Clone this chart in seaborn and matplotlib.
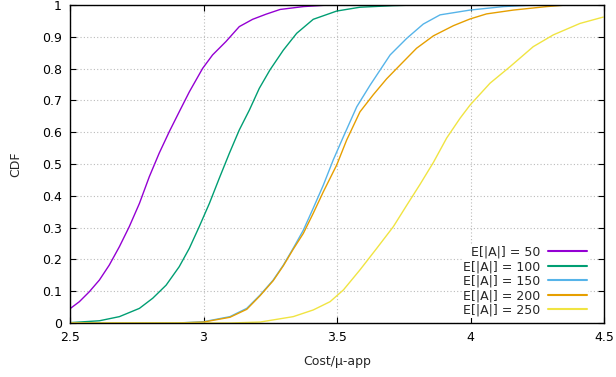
import numpy as np
import pandas as pd
import matplotlib
matplotlib.use("Agg")
import matplotlib.pyplot as plt
import seaborn as sns
from matplotlib.ticker import FuncFormatter

# Empirical CDF points (cost per micro-app, cumulative fraction) for each E[|A|]
cost_50 = [2.497, 2.535, 2.572, 2.61, 2.647, 2.685, 2.722, 2.76, 2.797, 2.834, 2.872, 2.909,
           2.947, 2.997, 3.034, 3.084, 3.134, 3.184, 3.234, 3.287, 3.374, 3.45, 3.55, 4.5]
cdf_50 = [0.043, 0.067, 0.098, 0.135, 0.182, 0.24, 0.303, 0.376, 0.46, 0.534, 0.602, 0.664,
          0.727, 0.801, 0.843, 0.885, 0.932, 0.955, 0.971, 0.986, 0.995, 0.999, 1.0, 1.0]

cost_100 = [2.497, 2.61, 2.685, 2.76, 2.81, 2.86, 2.909, 2.947, 2.984, 3.022, 3.059, 3.097,
            3.134, 3.172, 3.209, 3.249, 3.299, 3.349, 3.411, 3.499, 3.586, 3.711, 3.8, 4.5]
cdf_100 = [0.001, 0.007, 0.02, 0.046, 0.078, 0.119, 0.177, 0.235, 0.303, 0.376, 0.455, 0.534,
           0.607, 0.67, 0.738, 0.796, 0.858, 0.911, 0.955, 0.981, 0.993, 0.998, 1.0, 1.0]

cost_150 = [2.497, 2.9, 3.0, 3.099, 3.162, 3.212, 3.261, 3.299, 3.336, 3.374, 3.411, 3.449,
            3.486, 3.524, 3.574, 3.624, 3.699, 3.761, 3.823, 3.886, 3.998, 4.123, 4.24, 4.5]
cdf_150 = [0.0, 0.0, 0.004, 0.02, 0.046, 0.088, 0.135, 0.182, 0.235, 0.292, 0.361, 0.434,
           0.513, 0.586, 0.68, 0.748, 0.843, 0.895, 0.94, 0.969, 0.984, 0.995, 1.0, 1.0]

cost_200 = [2.497, 2.9, 3.0, 3.099, 3.162, 3.212, 3.261, 3.299, 3.336, 3.374, 3.411, 3.449,
            3.499, 3.536, 3.586, 3.636, 3.686, 3.736, 3.798, 3.861, 3.936, 3.998, 4.06, 4.16,
            4.285, 4.36, 4.5]
cdf_200 = [0.0, 0.0, 0.003, 0.018, 0.043, 0.086, 0.133, 0.18, 0.232, 0.282, 0.345, 0.413,
           0.497, 0.575, 0.664, 0.718, 0.768, 0.811, 0.864, 0.903, 0.935, 0.956, 0.972, 0.984,
           0.995, 1.0, 1.0]

cost_250 = [2.497, 3.1, 3.212, 3.336, 3.411, 3.474, 3.524, 3.586, 3.649, 3.711, 3.761, 3.811,
            3.861, 3.911, 3.961, 3.998, 4.073, 4.148, 4.235, 4.31, 4.41, 4.497]
cdf_250 = [0.0, 0.0, 0.003, 0.02, 0.041, 0.067, 0.104, 0.167, 0.235, 0.303, 0.37, 0.436,
           0.505, 0.582, 0.644, 0.685, 0.754, 0.806, 0.869, 0.906, 0.942, 0.962]

series_labels = ["E[|A|] = 50", "E[|A|] = 100", "E[|A|] = 150", "E[|A|] = 200", "E[|A|] = 250"]
series_colors = ["#9400d3", "#009e73", "#56b4e9", "#e69f00", "#f0e442"]

frames = []
for lab, xs, ys in zip(series_labels,
                       [cost_50, cost_100, cost_150, cost_200, cost_250],
                       [cdf_50, cdf_100, cdf_150, cdf_200, cdf_250]):
    frames.append(pd.DataFrame({"cost": xs, "cdf": ys, "series": lab}))
df = pd.concat(frames, ignore_index=True)

sns.set_style("ticks")
plt.rcParams["font.family"] = ["DejaVu Sans"]

fig = plt.figure(figsize=(6.16, 3.77), dpi=100)
ax = fig.add_axes([70 / 616, 54 / 377, 534 / 616, 318 / 377])

sns.lineplot(data=df, x="cost", y="cdf", hue="series", hue_order=series_labels,
             palette=dict(zip(series_labels, series_colors)), linewidth=1.0,
             sort=False, estimator=None, ax=ax)

ax.set_xlim(2.5, 4.5)
ax.set_ylim(0, 1)
ax.set_xticks(np.arange(2.5, 4.51, 0.5))
ax.set_yticks(np.arange(0, 1.01, 0.1))
ax.xaxis.set_major_formatter(FuncFormatter(lambda v, p: f"{v:g}"))
ax.yaxis.set_major_formatter(FuncFormatter(lambda v, p: f"{round(v, 1):g}"))
ax.tick_params(direction="in", length=4, width=0.8, labelsize=9, colors="black",
               top=True, right=True, pad=6)
ax.grid(True, linestyle=(0, (1, 2)), color="#bbbbbb", linewidth=0.8)
for s in ax.spines.values():
    s.set_linewidth(1.0)
    s.set_color("black")

ax.set_xlabel("Cost/\u03bc-app", fontsize=9, labelpad=8)
ax.set_ylabel("CDF", fontsize=9, labelpad=14)

leg = ax.legend(loc="lower right", bbox_to_anchor=(0.97, 0.016), frameon=True,
                markerfirst=False, fontsize=9, handlelength=3.1, handletextpad=0.6,
                labelspacing=0.12, borderpad=0.1, borderaxespad=0.0)
leg.get_frame().set_edgecolor("none")
leg.get_frame().set_facecolor("white")
leg.get_frame().set_alpha(1.0)
for line in leg.get_lines():
    line.set_linewidth(1.5)

fig.savefig("out.png", dpi=100)
